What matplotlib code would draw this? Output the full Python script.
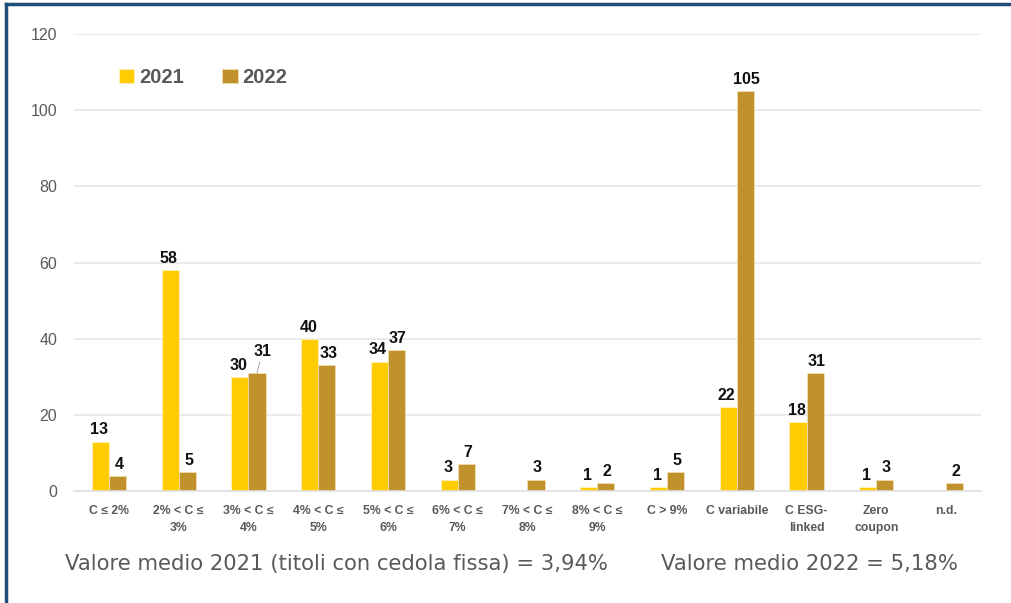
import numpy as np
import matplotlib
matplotlib.use("Agg")
import matplotlib.pyplot as plt
from matplotlib.lines import Line2D

# Data
categories = ["C ≤ 2%", "2% < C ≤\n3%", "3% < C ≤\n4%", "4% < C ≤\n5%", "5% < C ≤\n6%",
              "6% < C ≤\n7%", "7% < C ≤\n8%", "8% < C ≤\n9%", "C > 9%", "C variabile",
              "C ESG-\nlinked", "Zero\ncoupon", "n.d."]
v2021 = [13, 58, 30, 40, 34, 3, 0, 1, 1, 22, 18, 1, 0]
v2022 = [4, 5, 31, 33, 37, 7, 3, 2, 5, 105, 31, 3, 2]
years = ["2021", "2022"]
notes = ["Valore medio 2021 (titoli con cedola fissa) = 3,94%", "Valore medio 2022 = 5,18%"]

c21 = "#FFCC00"
c22 = "#C0922C"
font = ["Liberation Sans", "DejaVu Sans"]
plt.rcParams["font.family"] = font

fig = plt.figure(figsize=(10.11, 6.03), dpi=100)
ax = fig.add_axes([0.0732, 0.1857, 0.8971, 0.7579])

x = np.arange(len(categories))
w = 0.245
ax.bar(x - w / 2, v2021, w, color=c21, edgecolor="#FFF3C0", linewidth=0.6, label=years[0])
ax.bar(x + w / 2, v2022, w, color=c22, edgecolor="#F0DDB0", linewidth=0.6, label=years[1])

lab_kw = dict(ha="center", va="bottom", fontsize=11.5, fontweight="bold", color="#111111")
for i, v in enumerate(v2021):
    if v > 0:
        ax.annotate(str(v), (x[i] - w / 2, v), xytext=(-1, 3), textcoords="offset points", **lab_kw)
for i, v in enumerate(v2022):
    if v > 0:
        if i == 2:
            ax.annotate(str(v), (x[i] + w / 2, v), xytext=(4, 10), textcoords="offset points",
                        arrowprops=dict(arrowstyle="-", color="#999999", lw=0.6,
                                        shrinkA=0, shrinkB=0), **lab_kw)
        else:
            ax.annotate(str(v), (x[i] + w / 2, v), xytext=(1, 3), textcoords="offset points", **lab_kw)

ax.set_xlim(-0.5, len(categories) - 0.5)
ax.set_ylim(0, 120)
ax.set_yticks(range(0, 121, 20))
ax.yaxis.grid(True, color="#E6E6E6", linewidth=1.2)
ax.set_axisbelow(True)
for s in ["top", "right", "left"]:
    ax.spines[s].set_visible(False)
ax.spines["bottom"].set_color("#E0E0E0")
ax.spines["bottom"].set_linewidth(1.2)
ax.tick_params(axis="both", length=0)
ax.tick_params(axis="y", labelsize=11.5, labelcolor="#595959", pad=12)
ax.set_xticks(x)
ax.set_xticklabels(categories, fontsize=8.8, fontweight="bold", color="#595959", linespacing=1.6)
ax.tick_params(axis="x", pad=10)

leg = ax.legend(loc="upper left", bbox_to_anchor=(0.03, 0.965), ncol=2, frameon=False,
                handlelength=0.75, handleheight=0.75, columnspacing=1.9, handletextpad=0.25,
                prop=dict(family=font, size=14.5, weight="bold"))
for t in leg.get_texts():
    t.set_color("#595959")

fig.text(0.064, 0.055, notes[0], fontsize=15.2, color="#595959", family="DejaVu Sans")
fig.text(0.654, 0.055, notes[1], fontsize=15.2, color="#595959", family="DejaVu Sans")

# frame lines (top and left)
fig.add_artist(Line2D([0.006, 1.0], [0.9934, 0.9934], color="#1F4E79", lw=2.5, transform=fig.transFigure))
fig.add_artist(Line2D([0.006, 0.006], [0.0, 0.9934], color="#1F4E79", lw=2.5, transform=fig.transFigure))

fig.savefig("out.png", dpi=100)
